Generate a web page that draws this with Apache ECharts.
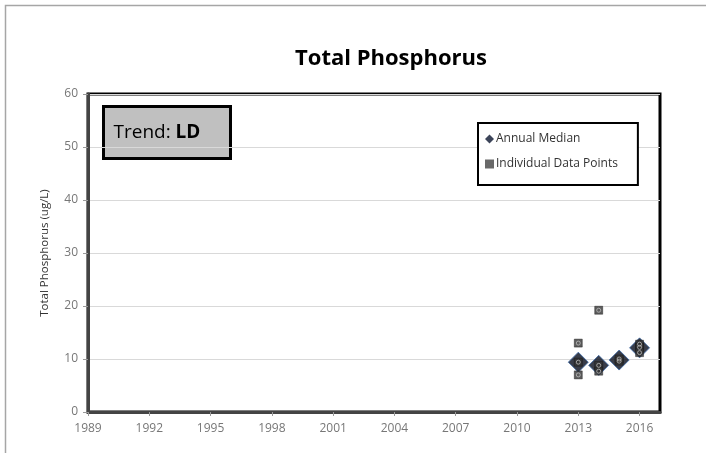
<!DOCTYPE html>
<html>
<head>
<meta charset="utf-8">
<script src="https://cdn.jsdelivr.net/npm/echarts@6/dist/echarts.min.js"></script>
<style>
  html, body { margin: 0; padding: 0; background: #fff; }
  #chart { width: 706px; height: 453px; }
</style>
</head>
<body>
<div id="chart"></div>
<script>
// data
const years = [2013, 2014, 2015, 2016];
const annualMedian = [9.4, 8.8, 9.8, 12.1];
const samples2013 = [13.0, 9.4, 7.0];
const samples2014 = [19.2, 8.8, 7.7];
const samples2015 = [9.6, 10.0];
const samples2016 = [12.8, 12.2, 11.2];
const individual = [samples2013, samples2014, samples2015, samples2016];

const medianData = years.map((y, i) => [y, annualMedian[i]]);
const pointData = [];
years.forEach((y, i) => individual[i].forEach(v => pointData.push([y, v])));

const font = 'Open Sans';
const chart = echarts.init(document.getElementById('chart'), null, { renderer: 'canvas' });

const option = {
  animation: false,
  backgroundColor: '#fff',
  title: {
    text: 'Total Phosphorus',
    left: 386,
    textAlign: 'center',
    top: 43,
    textStyle: { fontFamily: font, fontSize: 22, fontWeight: 'bold', color: '#000' }
  },
  grid: {
    left: 88, right: 46, top: 94, bottom: 41,
    show: true, borderColor: '#000', borderWidth: 3, backgroundColor: '#fff'
  },
  legend: {
    orient: 'vertical',
    left: 478,
    top: 123,
    padding: [10, 20, 15, 7],
    itemGap: 13,
    itemWidth: 9,
    itemHeight: 9,
    borderColor: '#000',
    borderWidth: 2,
    backgroundColor: '#fff',
    textStyle: { fontFamily: font, fontSize: 12, color: '#333', padding: [0, 0, 0, -3] },
    data: [
      { name: 'Annual Median', icon: 'diamond', itemStyle: { color: '#0b1530', borderWidth: 0 } },
      { name: 'Individual Data Points', icon: 'rect', itemStyle: { color: '#444', borderWidth: 0 } }
    ]
  },
  xAxis: {
    type: 'value',
    min: 1989,
    max: 2017,
    interval: 3,
    splitLine: { show: false },
    axisLine: { lineStyle: { color: '#444', width: 3 } },
    axisTick: { show: true, length: 4, lineStyle: { color: '#999' } },
    axisLabel: {
      showMaxLabel: false,
      margin: 11,
      formatter: v => String(v),
      fontFamily: font, fontSize: 12, color: '#777'
    }
  },
  yAxis: {
    type: 'value',
    min: 0,
    max: 60,
    interval: 10,
    name: 'Total Phosphorus (ug/L)',
    nameLocation: 'middle',
    nameGap: 37,
    nameTextStyle: { fontFamily: font, fontSize: 11.5, color: '#333' },
    splitLine: { lineStyle: { color: '#d9d9d9', width: 1 } },
    axisLine: { show: true, lineStyle: { color: '#444', width: 3 } },
    axisTick: { show: true, length: 5, lineStyle: { color: '#999' } },
    axisLabel: { margin: 10, fontFamily: font, fontSize: 12, color: '#777' }
  },
  series: [
    {
      name: 'Annual Median',
      type: 'scatter',
      symbol: 'diamond',
      symbolSize: 20,
      itemStyle: { color: '#080d1c', borderColor: '#3d6aa8', borderWidth: 1 },
      data: medianData,
      z: 2
    },
    {
      name: 'Individual Data Points',
      type: 'scatter',
      symbol: 'rect',
      symbolSize: 8,
      itemStyle: { color: '#333', borderColor: '#111', borderWidth: 0.5 },
      data: pointData,
      z: 3
    },
    {
      // light ring inside each square marker
      name: 'ring',
      type: 'scatter',
      symbol: 'circle',
      symbolSize: 4,
      silent: true,
      itemStyle: { color: 'transparent', borderColor: '#bbb', borderWidth: 1 },
      data: pointData,
      z: 4
    }
  ],
  graphic: [
    {
      // outer frame (only top and left edges show)
      type: 'rect',
      shape: { x: 5.5, y: 5.5, width: 900, height: 900 },
      style: { fill: null, stroke: '#a6a6a6', lineWidth: 1.5 },
      silent: true, z: 0
    },
    {
      type: 'group',
      left: 102,
      top: 105,
      z: 10,
      children: [
        {
          type: 'rect',
          shape: { x: 0, y: 0, width: 127, height: 52 },
          style: { fill: '#c0c0c0', stroke: '#000', lineWidth: 3 }
        },
        {
          type: 'text',
          x: 10,
          y: 26,
          style: {
            text: '{a|Trend: }{b|LD}',
            verticalAlign: 'middle',
            rich: {
              a: { fontFamily: font, fontSize: 19, color: '#000' },
              b: { fontFamily: font, fontSize: 19, fontWeight: 'bold', color: '#000' }
            }
          }
        }
      ]
    }
  ]
};

option && chart.setOption(option);
</script>
</body>
</html>
